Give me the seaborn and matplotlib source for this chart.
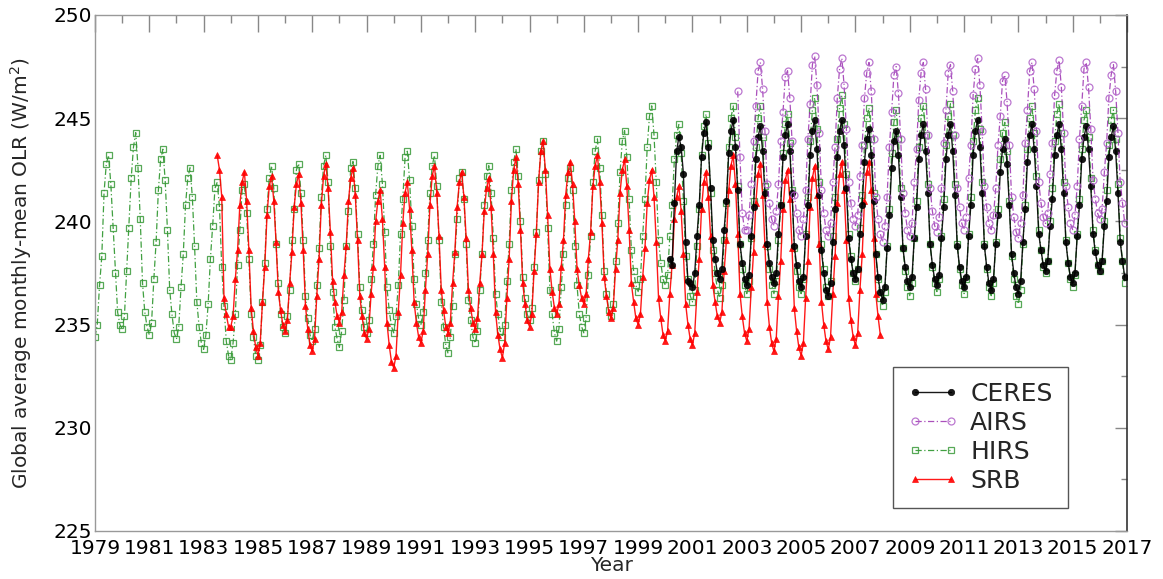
import numpy as np
import pandas as pd
import matplotlib
matplotlib.use("Agg")
import matplotlib.pyplot as plt
import seaborn as sns
from matplotlib.lines import Line2D

# ---------------- data (monthly global-mean OLR, W/m^2) ----------------
hirs_start = (1979, 1)
hirs_olr = [
    234.4, 235.0, 236.9, 238.3, 241.4, 242.8, 243.2, 241.8, 239.7, 237.5, 235.6, 235.0,  # 1979
    234.8, 235.4, 237.6, 239.7, 242.1, 243.6, 244.3, 242.6, 240.1, 237.0, 235.6, 234.9,  # 1980
    234.5, 235.1, 237.2, 239.0, 241.5, 243.0, 243.5, 242.0, 239.6, 236.7, 235.5, 234.6,  # 1981
    234.3, 234.9, 236.8, 238.4, 240.8, 242.1, 242.6, 241.2, 238.8, 236.1, 234.9, 234.1,  # 1982
    233.8, 234.5, 236.0, 238.2, 239.8, 241.6, 241.9, 240.7, 237.8, 235.9, 234.2, 233.5,  # 1983
    233.3, 234.1, 235.5, 237.9, 239.6, 241.5, 241.8, 240.4, 238.2, 235.5, 234.4, 233.5,  # 1984
    233.3, 234.0, 236.1, 238.0, 240.6, 242.1, 242.7, 241.6, 238.9, 237.0, 235.5, 234.9,  # 1985
    234.6, 235.4, 236.7, 239.1, 240.6, 242.5, 242.8, 241.4, 239.1, 236.4, 235.3, 234.5,  # 1986
    234.2, 234.8, 236.9, 238.7, 241.2, 242.7, 243.2, 241.9, 238.8, 236.6, 234.9, 234.3,  # 1987
    233.9, 234.7, 236.2, 238.8, 240.5, 242.6, 242.9, 241.6, 239.4, 236.8, 235.7, 234.9,  # 1988
    234.6, 235.2, 237.2, 238.9, 241.3, 242.7, 243.2, 241.8, 239.5, 236.8, 235.7, 234.9,  # 1989
    234.6, 235.4, 236.9, 239.4, 241.1, 243.1, 243.4, 242.0, 239.8, 237.2, 236.0, 235.3,  # 1990
    235.0, 235.6, 237.5, 239.1, 241.4, 242.7, 243.2, 241.7, 239.1, 236.1, 234.9, 234.0,  # 1991
    233.6, 234.4, 235.9, 238.4, 240.1, 242.1, 242.4, 241.1, 238.9, 236.2, 235.2, 234.4,  # 1992
    234.1, 234.7, 236.7, 238.4, 240.8, 242.2, 242.7, 241.4, 239.2, 236.5, 235.5, 234.7,  # 1993
    234.4, 235.0, 237.1, 238.9, 241.5, 242.9, 243.5, 242.2, 240.0, 237.3, 236.3, 235.5,  # 1994
    235.2, 235.8, 237.8, 239.5, 242.0, 243.4, 243.9, 242.3, 239.7, 236.7, 235.5, 234.6,  # 1995
    234.2, 234.8, 236.8, 238.4, 240.8, 242.1, 242.6, 241.5, 238.8, 236.9, 235.5, 234.9,  # 1996
    234.6, 235.3, 237.4, 239.3, 241.9, 243.4, 244.0, 242.6, 240.3, 237.6, 236.5, 235.7,  # 1997
    235.4, 236.0, 238.1, 239.9, 242.4, 243.9, 244.4, 243.1, 241.1, 238.6, 237.6, 236.9,  # 1998
    236.6, 237.2, 239.3, 241.1, 243.6, 245.1, 245.6, 244.2, 241.9, 239.1, 238.0, 237.2,  # 1999
    236.9, 237.4, 239.3, 240.8, 243.0, 244.2, 244.7, 243.3, 241.0, 238.3, 237.2, 236.4,  # 2000
    236.1, 236.7, 238.8, 240.6, 243.2, 244.6, 245.2, 243.8, 241.4, 238.6, 237.5, 236.7,  # 2001
    236.3, 236.9, 239.1, 240.9, 243.6, 245.0, 245.6, 244.1, 241.7, 238.9, 237.7, 236.9,  # 2002
    236.5, 237.1, 239.2, 241.0, 243.6, 245.0, 245.6, 244.1, 241.7, 238.8, 237.7, 236.9,  # 2003
    236.5, 237.1, 239.1, 240.8, 243.3, 244.7, 245.2, 243.8, 241.5, 238.7, 237.6, 236.8,  # 2004
    236.5, 237.2, 239.4, 241.2, 243.9, 245.4, 246.0, 244.5, 241.9, 238.9, 237.7, 236.8,  # 2005
    236.4, 237.1, 239.3, 241.2, 244.0, 245.5, 246.1, 244.7, 242.3, 239.4, 238.3, 237.5,  # 2006
    237.1, 237.7, 239.7, 241.3, 243.7, 245.0, 245.5, 244.0, 241.4, 238.4, 237.2, 236.3,  # 2007
    235.9, 236.6, 238.8, 240.6, 243.3, 244.8, 245.4, 244.0, 241.6, 238.7, 237.6, 236.8,  # 2008
    236.4, 237.0, 239.2, 241.0, 243.6, 245.0, 245.6, 244.2, 241.8, 238.9, 237.8, 237.0,  # 2009
    236.6, 237.2, 239.3, 241.1, 243.7, 245.1, 245.7, 244.2, 241.8, 238.9, 237.7, 236.9,  # 2010
    236.5, 237.2, 239.4, 241.2, 243.9, 245.4, 246.0, 244.5, 241.9, 238.9, 237.7, 236.8,  # 2011
    236.4, 237.0, 239.0, 240.6, 243.0, 244.3, 244.8, 243.4, 241.0, 238.3, 237.2, 236.4,  # 2012
    236.0, 236.7, 238.9, 240.8, 243.5, 245.0, 245.6, 244.3, 242.2, 239.6, 238.6, 237.8,  # 2013
    237.5, 238.1, 240.0, 241.6, 243.9, 245.2, 245.7, 244.3, 241.9, 239.1, 238.0, 237.2,  # 2014
    236.8, 237.4, 239.4, 241.1, 243.5, 244.9, 245.4, 244.1, 242.1, 239.6, 238.6, 237.9,  # 2015
    237.6, 238.1, 240.0, 241.5, 243.7, 244.9, 245.4, 244.0, 241.8, 239.2, 238.1, 237.0,  # 2016
]

srb_start = (1983, 7)
srb_olr = [
    243.2, 242.5, 241.2, 236.3, 235.5, 234.9,                                              # 1983 (Jul-Dec)
    234.9, 235.4, 237.2, 238.6, 240.8, 241.9, 242.4, 241.0, 238.6, 235.8, 234.7, 233.9,  # 1984
    233.5, 234.1, 236.1, 237.8, 240.3, 241.7, 242.2, 241.0, 239.0, 236.6, 235.7, 235.0,  # 1985
    234.7, 235.2, 237.0, 238.5, 240.7, 241.8, 242.3, 240.9, 238.6, 235.9, 234.8, 234.0,  # 1986
    233.7, 234.3, 236.4, 238.2, 240.8, 242.2, 242.8, 241.6, 239.5, 237.1, 236.1, 235.4,  # 1987
    235.1, 235.6, 237.4, 238.8, 241.0, 242.1, 242.6, 241.3, 239.1, 236.4, 235.4, 234.6,  # 1988
    234.3, 234.8, 236.5, 237.8, 240.0, 241.0, 241.5, 240.1, 237.8, 235.1, 234.0, 233.2,  # 1989
    232.9, 233.5, 235.6, 237.4, 239.9, 241.4, 241.9, 240.6, 238.6, 236.1, 235.1, 234.4,  # 1990
    234.1, 234.7, 236.7, 238.4, 240.8, 242.2, 242.7, 241.4, 239.3, 236.7, 235.7, 234.9,  # 1991
    234.6, 235.1, 237.0, 238.5, 240.7, 241.9, 242.4, 241.2, 239.2, 236.7, 235.8, 235.1,  # 1992
    234.8, 235.3, 237.0, 238.4, 240.5, 241.6, 242.1, 240.7, 238.4, 235.6, 234.5, 233.8,  # 1993
    233.4, 234.1, 236.3, 238.2, 241.0, 242.5, 243.1, 241.8, 239.6, 237.0, 236.0, 235.2,  # 1994
    234.9, 235.5, 237.6, 239.4, 241.9, 243.4, 243.9, 242.5, 240.3, 237.7, 236.6, 235.8,  # 1995
    235.5, 236.0, 237.8, 239.1, 241.3, 242.4, 242.9, 241.8, 240.0, 237.7, 236.9, 236.3,  # 1996
    236.0, 236.5, 238.2, 239.5, 241.7, 242.7, 243.2, 241.9, 239.9, 237.3, 236.4, 235.6,  # 1997
    235.3, 235.8, 237.7, 239.1, 241.4, 242.5, 243.0, 241.7, 239.6, 237.0, 236.1, 235.3,  # 1998
    235.0, 235.5, 237.3, 238.7, 240.9, 242.0, 242.5, 241.2, 239.0, 236.3, 235.3, 234.5,  # 1999
    234.2, 234.7, 236.5, 237.9, 240.1, 241.2, 241.7, 240.5, 238.4, 236.0, 235.0, 234.3,  # 2000
    234.0, 234.6, 236.6, 238.2, 240.6, 241.9, 242.4, 241.2, 239.3, 236.9, 236.1, 235.4,  # 2001
    235.1, 235.6, 237.6, 239.1, 241.5, 242.7, 243.2, 241.8, 239.4, 236.5, 235.4, 234.6,  # 2002
    234.2, 234.8, 236.8, 238.5, 240.9, 242.3, 242.8, 241.3, 238.9, 236.1, 234.9, 234.1,  # 2003
    233.7, 234.3, 236.4, 238.1, 240.6, 242.0, 242.5, 241.1, 238.7, 235.8, 234.7, 233.9,  # 2004
    233.5, 234.1, 236.3, 238.1, 240.7, 242.1, 242.7, 241.3, 238.9, 236.1, 235.0, 234.2,  # 2005
    233.8, 234.4, 236.5, 238.3, 240.9, 242.3, 242.9, 241.5, 239.1, 236.3, 235.2, 234.4,  # 2006
    234.0, 234.6, 236.7, 238.4, 241.0, 242.4, 242.9, 241.5, 239.2, 236.5, 235.4, 234.5,  # 2007
]

ceres_start = (2000, 3)
ceres_olr = [
    238.2, 237.9, 240.9, 243.4, 244.1, 243.6, 242.3, 239.0, 237.1, 237.0,                # 2000 (Mar-Dec)
    236.8, 237.5, 239.3, 240.8, 243.1, 244.3, 244.8, 243.6, 241.6, 239.1, 238.2, 237.5,  # 2001
    237.2, 237.7, 239.6, 241.0, 243.3, 244.4, 244.9, 243.6, 241.5, 238.9, 238.0, 237.2,  # 2002
    236.9, 237.4, 239.3, 240.7, 243.0, 244.1, 244.6, 243.4, 241.4, 238.9, 238.0, 237.3,  # 2003
    237.0, 237.5, 239.4, 240.8, 243.1, 244.2, 244.7, 243.4, 241.4, 238.8, 237.9, 237.1,  # 2004
    236.8, 237.3, 239.3, 240.8, 243.2, 244.4, 244.9, 243.5, 241.3, 238.6, 237.5, 236.7,  # 2005
    236.4, 237.0, 239.0, 240.6, 243.1, 244.4, 244.9, 243.7, 241.6, 239.2, 238.2, 237.5,  # 2006
    237.2, 237.7, 239.4, 240.8, 242.9, 244.0, 244.5, 243.2, 241.0, 238.4, 237.3, 236.6,  # 2007
    236.2, 236.8, 238.7, 240.3, 242.6, 243.9, 244.4, 243.2, 241.2, 238.7, 237.8, 237.1,  # 2008
    236.8, 237.3, 239.2, 240.7, 243.0, 244.2, 244.7, 243.4, 241.4, 238.9, 237.9, 237.2,  # 2009
    236.9, 237.4, 239.2, 240.7, 243.0, 244.2, 244.7, 243.4, 241.3, 238.8, 237.8, 237.1,  # 2010
    236.8, 237.3, 239.3, 240.8, 243.2, 244.4, 244.9, 243.6, 241.4, 238.8, 237.8, 237.0,  # 2011
    236.7, 237.2, 238.9, 240.3, 242.4, 243.5, 244.0, 242.8, 240.8, 238.4, 237.5, 236.8,  # 2012
    236.5, 237.1, 239.0, 240.6, 242.9, 244.2, 244.7, 243.5, 241.7, 239.4, 238.6, 237.9,  # 2013
    237.6, 238.1, 239.8, 241.1, 243.2, 244.2, 244.7, 243.5, 241.4, 239.0, 238.0, 237.3,  # 2014
    237.0, 237.5, 239.3, 240.8, 243.0, 244.1, 244.6, 243.5, 241.7, 239.4, 238.5, 237.9,  # 2015
    237.6, 238.1, 239.8, 241.0, 243.1, 244.1, 244.6, 243.4, 241.4, 239.0, 238.1, 237.3,  # 2016
]

airs_start = (2002, 9)
airs_olr = [
    246.3, 243.1, 240.4, 239.6,                                                          # 2002 (Sep-Dec)
    239.6, 240.3, 241.8, 243.9, 245.6, 247.3, 247.7, 246.4, 244.4, 241.8, 240.9, 240.1,  # 2003
    239.8, 240.5, 241.8, 243.9, 245.3, 247.0, 247.3, 246.0, 243.9, 241.3, 240.4, 239.6,  # 2004
    239.3, 240.1, 241.5, 244.0, 245.7, 247.6, 248.0, 246.6, 244.3, 241.5, 240.4, 239.6,  # 2005
    239.3, 239.9, 241.9, 243.6, 246.0, 247.4, 247.9, 246.6, 244.5, 241.9, 240.9, 240.1,  # 2006
    239.8, 240.3, 242.2, 243.7, 246.0, 247.2, 247.7, 246.3, 244.0, 241.2, 240.1, 239.4,  # 2007
    239.0, 239.8, 241.2, 243.6, 245.3, 247.1, 247.5, 246.2, 244.0, 241.4, 240.4, 239.6,  # 2008
    239.3, 239.9, 241.9, 243.5, 245.9, 247.2, 247.7, 246.4, 244.2, 241.6, 240.5, 239.8,  # 2009
    239.5, 240.2, 241.6, 243.8, 245.4, 247.2, 247.6, 246.3, 244.2, 241.6, 240.7, 239.9,  # 2010
    239.6, 240.2, 242.1, 243.7, 246.1, 247.4, 247.9, 246.6, 244.4, 241.7, 240.7, 239.9,  # 2011
    239.6, 240.3, 241.6, 243.7, 245.1, 246.8, 247.1, 245.8, 243.7, 241.2, 240.2, 239.5,  # 2012
    239.2, 239.9, 241.3, 243.8, 245.4, 247.3, 247.7, 246.4, 244.4, 241.9, 240.9, 240.2,  # 2013
    239.9, 240.4, 242.3, 243.8, 246.1, 247.3, 247.8, 246.5, 244.3, 241.7, 240.7, 239.9,  # 2014
    239.6, 240.3, 241.7, 244.0, 245.6, 247.4, 247.7, 246.5, 244.5, 242.0, 241.1, 240.4,  # 2015
    240.1, 240.6, 242.4, 243.8, 246.0, 247.1, 247.6, 246.3, 244.3, 241.9, 240.9, 239.9,  # 2016
]

series_names = ["CERES", "AIRS", "HIRS", "SRB"]
year_ticks = list(range(1979, 2018, 2))
olr_ticks = [225, 230, 235, 240, 245, 250]


def to_frame(start, values):
    y0, m0 = start
    t = np.array([y0 + (m0 - 1 + i) / 12.0 for i in range(len(values))])
    return pd.DataFrame({"year": t, "olr": values})


frames = {
    "CERES": to_frame(ceres_start, ceres_olr),
    "AIRS": to_frame(airs_start, airs_olr),
    "HIRS": to_frame(hirs_start, hirs_olr),
    "SRB": to_frame(srb_start, srb_olr),
}

styles = {
    "HIRS": dict(color="#1f8f1f", marker="s", markersize=4.8, markerfacecolor="none",
                 markeredgecolor="#3a9a3a", markeredgewidth=0.9, linewidth=0.9,
                 dashes=(5, 2, 1, 2), alpha=0.85, zorder=2),
    "SRB": dict(color="#ff0000", marker="^", markersize=4.8, markerfacecolor="#ff0000",
                markeredgecolor="#ff0000", markeredgewidth=0.5, linewidth=1.0,
                dashes=(None, None), alpha=0.9, zorder=3),
    "CERES": dict(color="#000000", marker="o", markersize=4.6, markerfacecolor="#000000",
                  markeredgecolor="#000000", markeredgewidth=0.5, linewidth=1.0,
                  dashes=(None, None), alpha=0.9, zorder=4),
    "AIRS": dict(color="#9b30b0", marker="o", markersize=5.0, markerfacecolor="none",
                 markeredgecolor="#b060c8", markeredgewidth=0.9, linewidth=0.9,
                 dashes=(5, 2, 1, 2), alpha=0.85, zorder=5),
}

sns.set_theme(style="white")
plt.rcParams["font.family"] = ["DejaVu Sans"]

fig = plt.figure(figsize=(11.63, 5.79), dpi=100)
ax = fig.add_axes([95 / 1163, 1 - 531 / 579, (1127 - 95) / 1163, (531 - 15) / 579])

for name in ["HIRS", "SRB", "CERES", "AIRS"]:
    st = dict(styles[name])
    dashes = st.pop("dashes")
    z = st.pop("zorder")
    sns.lineplot(data=frames[name], x="year", y="olr", ax=ax, estimator=None, sort=False,
                 **st)
    line = ax.lines[-1]
    if dashes[0] is not None:
        line.set_dashes(dashes)
    line.set_zorder(z)

ax.set_xlim(1979, 2017)
ax.set_ylim(225, 250)
ax.set_xticks(year_ticks)
ax.set_xticks(range(1979, 2018), minor=True)
ax.set_yticks(olr_ticks)
ax.set_yticks(np.arange(225, 250.1, 2.5), minor=True)
ax.set_xticklabels([str(y) for y in year_ticks])
ax.tick_params(axis="both", which="both", direction="in", top=True, right=True,
               labelsize=14.5, colors="#888888", labelcolor="black")
ax.tick_params(axis="x", which="major", length=12, width=1, pad=6)
ax.tick_params(axis="x", which="minor", length=6, width=1)
ax.tick_params(axis="y", which="major", length=9, width=1, pad=2)
ax.tick_params(axis="y", which="minor", length=4, width=1)
for s in ["left", "top", "bottom"]:
    ax.spines[s].set_color("#999999")
    ax.spines[s].set_linewidth(1.0)
ax.spines["right"].set_color("#333333")
ax.spines["right"].set_linewidth(1.2)

ax.set_xlabel("Year", fontsize=14.5, labelpad=-2)
ax.set_ylabel("Global average monthly-mean OLR (W/m$^2$)", fontsize=14.5, labelpad=14)
ax.grid(False)

handles = []
for name in series_names:
    st = dict(styles[name])
    dashes = st.pop("dashes")
    st.pop("zorder")
    h = Line2D([0], [0], **st)
    if dashes[0] is not None:
        h.set_dashes(dashes)
    handles.append(h)
leg = ax.legend(handles, series_names, loc="lower left", bbox_to_anchor=(0.773, 0.045),
                fontsize=18, handlelength=2.05, numpoints=2, frameon=True, fancybox=False,
                edgecolor="#555555", framealpha=1, labelspacing=0.2, borderpad=0.6,
                handletextpad=0.45, borderaxespad=0)
leg.get_frame().set_linewidth(1.0)

fig.savefig("out.png", dpi=100, facecolor="white")
